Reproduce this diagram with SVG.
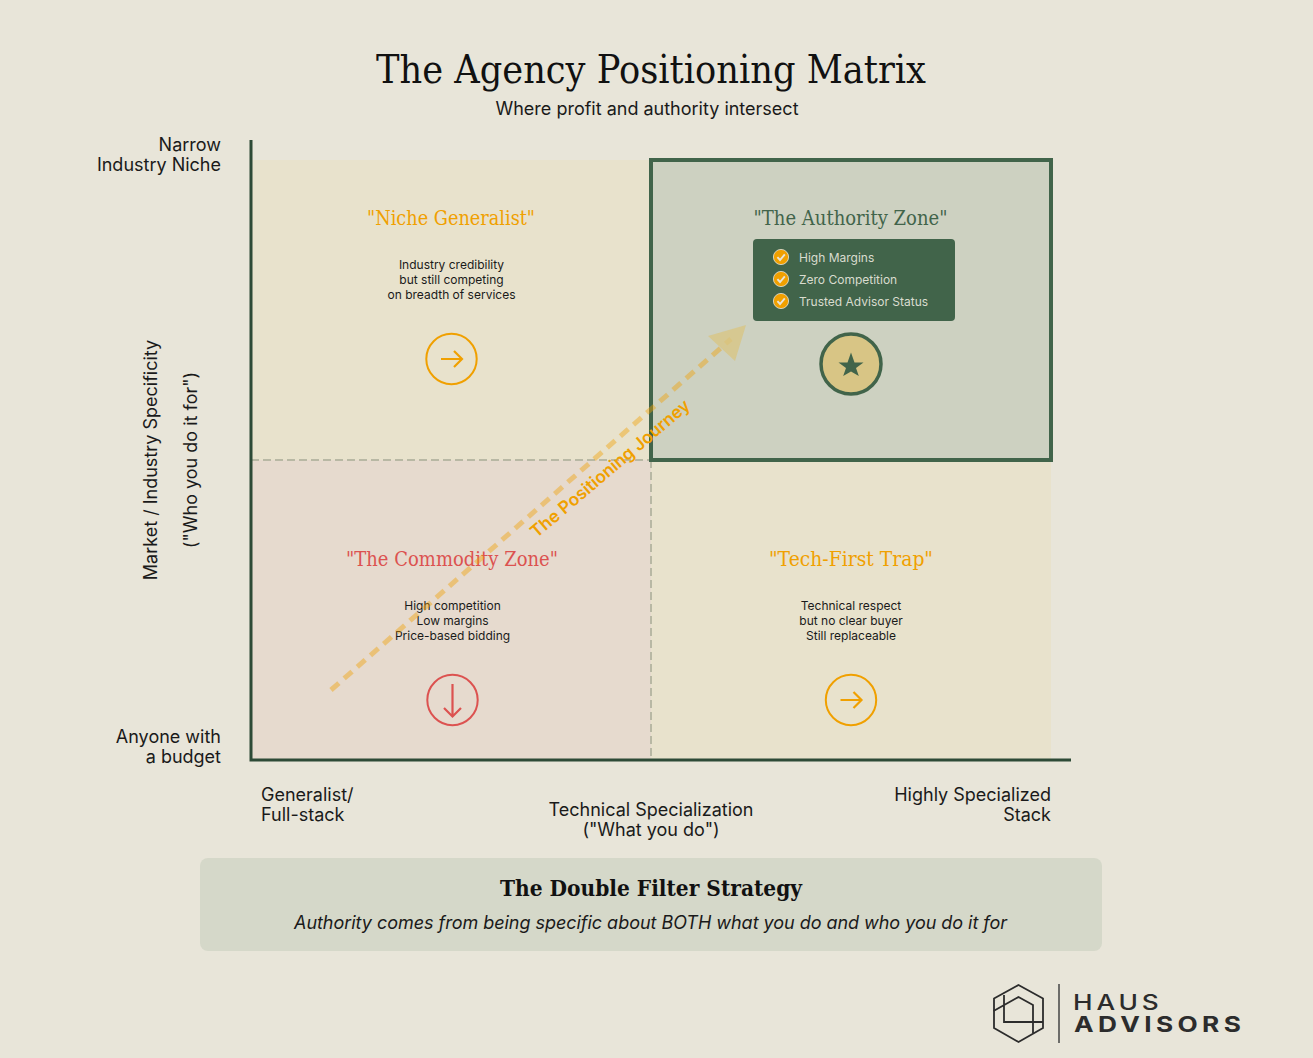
<svg xmlns="http://www.w3.org/2000/svg" width="1313" height="1058" viewBox="0 0 1313 1058">
<defs>
<style>
text{font-family:Inter,"Liberation Sans",sans-serif}
.s{font-family:"DejaVu Serif",serif}
.m{text-anchor:middle}
.e{text-anchor:end}
.q{font-family:"DejaVu Serif",serif;font-size:20px;text-anchor:middle}
.d{font-size:12px;fill:#1a1a1a;text-anchor:middle}
.a{font-size:18px;fill:#1a1a1a}
.li{font-size:12px;fill:#d9dccf}
.ic{fill:none;stroke-width:2;stroke-linejoin:miter}
.ar{stroke-width:2.200}
</style>
<g id="chk">
<circle r="7.6" fill="#f0a000" stroke="#e8e4d8" stroke-width="0.8"/>
<path d="M-3.6 0.2L-1 3L3.8-2.6" fill="none" stroke="#e8e4d8" stroke-width="1.9"/>
</g>
</defs>
<rect width="1313" height="1058" fill="#e8e5d9"/>
<text class="s m" x="651" y="83" font-size="39" textLength="550" lengthAdjust="spacingAndGlyphs" fill="#111">The Agency Positioning Matrix</text>
<text class="m" x="647" y="115" font-size="18" fill="#1a1a1a">Where profit and authority intersect</text>

<g id="q-niche">
<rect x="251" y="160" width="400" height="300" fill="#e8e2cc"/>
<text class="q" x="451" y="225" fill="#f0a000" textLength="168" lengthAdjust="spacingAndGlyphs">"Niche Generalist"</text>
<text class="d" x="451.500" y="269">Industry credibility</text>
<text class="d" x="451.500" y="284">but still competing</text>
<text class="d" x="451.500" y="299">on breadth of services</text>
<g class="ic" stroke="#f0a000"><circle cx="451.500" cy="359" r="25.200"/><path class="ar" d="M441 359H461M454 351L462 359L454 367"/></g>
</g>
<g id="q-commodity">
<rect x="251" y="460" width="400" height="300" fill="#e6dace"/>
<text class="q" x="452" y="566" fill="#dc5250" textLength="212" lengthAdjust="spacingAndGlyphs">"The Commodity Zone"</text>
<text class="d" x="452.500" y="610">High competition</text>
<text class="d" x="452.500" y="625">Low margins</text>
<text class="d" x="452.500" y="640">Price-based bidding</text>
<g class="ic" stroke="#dc5250"><circle cx="452.500" cy="700" r="25.200"/><path class="ar" d="M452.500 684V716M444 708L452.500 716.500L461 708"/></g>
</g>
<g id="q-tech">
<rect x="651" y="460" width="400" height="300" fill="#e8e2cc"/>
<text class="q" x="851" y="566" fill="#f0a000" textLength="164" lengthAdjust="spacingAndGlyphs">"Tech-First Trap"</text>
<text class="d" x="851" y="610">Technical respect</text>
<text class="d" x="851" y="625">but no clear buyer</text>
<text class="d" x="851" y="640">Still replaceable</text>
<g class="ic" stroke="#f0a000"><circle cx="851" cy="700" r="25.200"/><path class="ar" d="M840.500 700H860.500M853.500 692L861.500 700L853.500 708"/></g>
</g>
<g id="q-authority">
<rect x="651" y="160" width="400" height="300" fill="#cdd1c1"/>
<text class="q" x="850.500" y="225" fill="#41644a" textLength="194" lengthAdjust="spacingAndGlyphs">"The Authority Zone"</text>
<rect x="753" y="239" width="202" height="82" rx="4" fill="#41644a"/>
<use href="#chk" x="781" y="257"/>
<use href="#chk" x="781" y="279"/>
<use href="#chk" x="781" y="301"/>
<text class="li" x="799" y="262">High Margins</text>
<text class="li" x="799" y="284">Zero Competition</text>
<text class="li" x="799" y="306">Trusted Advisor Status</text>
<circle cx="851" cy="364" r="30" fill="#d8c585" stroke="#41644a" stroke-width="3.500"/>
<path d="M851 352.500L854.500 362.500L863.500 362.500L856 368L858.800 376L851 371.500L843.200 376L846 368L838.500 362.500L847.500 362.500Z" fill="#41644a"/>
</g>

<g id="connectors">
<path d="M251 460H651M651 460V760" fill="none" stroke="#b8b8a4" stroke-width="2" stroke-dasharray="8 4"/>
<path d="M651 160H1051V460H651Z" fill="none" stroke="#41644a" stroke-width="4"/>
<path d="M251 140V760H1071" fill="none" stroke="#2d4a36" stroke-width="3"/>
<path d="M331 690L731 339" fill="none" stroke="#f0a000" stroke-opacity="0.42" stroke-width="5" stroke-dasharray="10.500 7"/>
<path d="M746 325L735 361L708 336Z" fill="#d8c585" fill-opacity="0.8"/>
</g>
<text x="614" y="473" transform="rotate(-40.300 614 473)" class="m" font-size="17.300" font-weight="600" fill="#f0a000">The Positioning Journey</text>

<g id="labels">
<text class="a e" x="221" y="151">Narrow</text>
<text class="a e" x="221" y="171">Industry Niche</text>
<text class="a e" x="221" y="743">Anyone with</text>
<text class="a e" x="221" y="763">a budget</text>
<text class="a" x="261" y="801">Generalist/</text>
<text class="a" x="261" y="821">Full-stack</text>
<text class="a m" x="651" y="816">Technical Specialization</text>
<text class="a m" x="651" y="836">("What you do")</text>
<text class="a e" x="1051" y="801">Highly Specialized</text>
<text class="a e" x="1051" y="821">Stack</text>
<text class="a m" transform="translate(157 460) rotate(-90)">Market / Industry Specificity</text>
<text class="a m" transform="translate(197 460) rotate(-90)">("Who you do it for")</text>
</g>

<g id="strategy">
<rect x="200" y="858" width="902" height="93" rx="8" fill="#d5d8c9"/>
<text class="s m" x="651" y="896" font-size="23" font-weight="700" textLength="302" lengthAdjust="spacingAndGlyphs" fill="#111">The Double Filter Strategy</text>
<text class="m" x="650.500" y="929" font-size="18" font-style="italic" textLength="713" fill="#1a1a1a">Authority comes from being specific about BOTH what you do and who you do it for</text>
</g>

<g id="logo">
<g fill="none" stroke="#2c2c2c" stroke-width="1.800">
<path d="M1018.500 985L1043 998.500V1028L1018.500 1042L994 1028V998.500Z"/>
<path d="M993.500 1011L1018.500 997L1033 1005V1033M1004 995V1022H1043"/>
</g>
<path d="M1059 984V1043" stroke="#444" stroke-width="1.500"/>
<text transform="translate(1073 0) scale(1.25 1)" font-size="21" fill="#2c2c2c"><tspan x="0" y="1010" font-weight="500" letter-spacing="3.100">HAUS</tspan><tspan x="0.800" y="1032" font-weight="700" letter-spacing="3.500">ADVISORS</tspan></text>
</g>
</svg>
